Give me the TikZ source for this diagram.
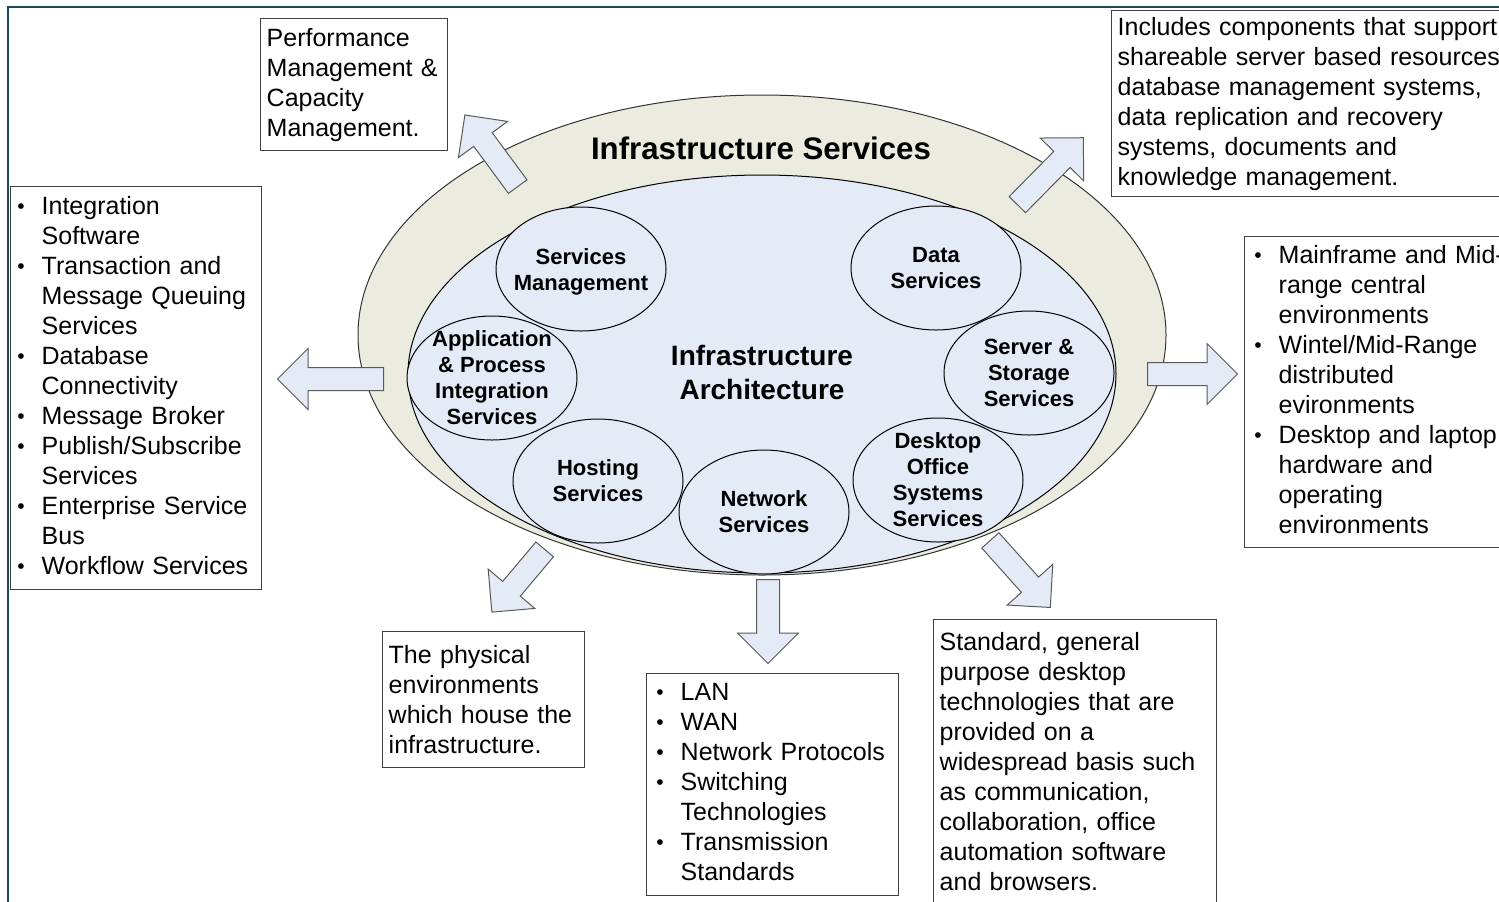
\documentclass[tikz,border=0pt]{standalone}
\usepackage{fontspec}
\setmainfont{Liberation Sans}
\usetikzlibrary{shapes.geometric,shapes.arrows}

\definecolor{framecol}{HTML}{1B4A5C}
\definecolor{outerfill}{HTML}{EBEBE0}
\definecolor{innerfill}{HTML}{E4EBF6}
\definecolor{arrowline}{HTML}{5A5A5A}

\tikzset{
  textbox/.style={draw=black!75, line width=0.7pt, anchor=north west, align=left,
    inner xsep=3pt, inner ysep=0pt, font=\fontsize{12.5}{15}\selectfont},
  svc/.style={ellipse, draw=black, line width=0.5pt, fill=innerfill,
    minimum width=85pt, minimum height=62pt, inner sep=0pt},
  svctext/.style={align=center, font=\fontsize{11}{13}\selectfont\bfseries},
  bigarrow/.style={single arrow, draw=arrowline, line width=0.5pt, fill=innerfill,
    inner sep=5.5pt, single arrow head extend=9.5pt, single arrow tip angle=90,
    anchor=tail},
}

% bullet with an optional shift
\newcommand{\bu}[1][0pt]{\hspace{#1}\makebox[12.5pt][l]{\hspace{0.3pt}\raisebox{0.4pt}{\fontsize{10.5}{10}\selectfont\textbullet}}}

\begin{document}
\begin{tikzpicture}[x=0.5pt,y=-0.5pt]
\useasboundingbox (0,0) rectangle (1499,901);
\clip (0,0) rectangle (1499,901);

% Frame
\draw[framecol, line width=1pt] (8,7) rectangle (1530,930);

% Ellipses
\fill[outerfill] (762,335) ellipse [x radius=202pt, y radius=120pt];
\draw[black!80, line width=0.5pt] (762,335) ellipse [x radius=202pt, y radius=120pt];
\filldraw[fill=innerfill, draw=black, line width=0.5pt] (762,374) ellipse [x radius=177pt, y radius=99.5pt];

\node[font=\fontsize{15.6}{18}\selectfont\bfseries] (title) at (761,148) {Infrastructure Services};
\node[align=center, font=\fontsize{14}{17}\selectfont\bfseries] (arch) at (762,372) {Infrastructure\\Architecture};

% Services
\node[svc] (mgmt) at (581,269) {};
\node[svctext] at ([yshift=-1.5pt]mgmt.center) {Services\\Management};
\node[svc] (data) at (936,268) {};
\node[svctext] at (data) {Data\\Services};
\node[svc] (app) at (492,378) {};
\node[svctext] at (app) {Application\\\& Process\\Integration\\Services};
\node[svc] (server) at (1029,373) {};
\node[svctext] at (server) {Server \&\\Storage\\Services};
\node[svc] (hosting) at (598,481) {};
\node[svctext] at (hosting) {Hosting\\Services};
\node[svc] (network) at (764,512) {};
\node[svctext] at (network) {Network\\Services};
\node[svc] (desktop) at (938,480) {};
\node[svctext] at (desktop) {Desktop\\Office\\Systems\\Services};

% Arrows (placed by their tails)
\node[bigarrow, minimum height=44.5pt, rotate=126.4] (arrUL) at (518,187) {};
\node[bigarrow, minimum height=53pt, rotate=180] (arrL) at (384,379) {};
\node[bigarrow, minimum height=47pt, rotate=45.4] (arrUR) at (1017,205) {};
\node[bigarrow, minimum height=45pt, rotate=0] (arrR) at (1147,374) {};
\node[bigarrow, minimum height=41pt, rotate=229.9] (arrDL) at (545,549) {};
\node[bigarrow, minimum height=42pt, rotate=270] (arrD) at (768,579) {};
\node[bigarrow, minimum height=45pt, rotate=-48.2] (arrDR) at (990,540) {};

% Text boxes
\node[textbox, text width=87.5pt, minimum height=66pt] (perf) at (260,18)
  {Performance\\Management \&\\Capacity\\Management.};
\node[textbox, text width=204pt, minimum height=93pt] (shared) at (1111,10)
  {Includes components that support\\shareable server based resources,\\database management systems,\\data replication and recovery\\systems, documents and\\knowledge management.};
\node[textbox, text width=119.5pt, minimum height=201.5pt] (integ) at (10,186)
  {\begin{tabular}{@{}l@{}l@{}}
  \bu & Integration\\ & Software\\
  \bu & Transaction and\\ & Message Queuing\\ & Services\\
  \bu & Database\\ & Connectivity\\
  \bu & Message Broker\\
  \bu & Publish/Subscribe\\ & Services\\
  \bu & Enterprise Service\\ & Bus\\
  \bu & Workflow Services
  \end{tabular}};
\node[textbox, text width=144pt, minimum height=155.5pt] (central) at (1244,236)
  {\begin{tabular}{@{}l@{}l@{}}
  \bu[1.5pt] & Mainframe and Mid-\\ & range central\\ & environments\\
  \bu[1.5pt] & Wintel/Mid-Range\\ & distributed\\ & evironments\\
  \bu[1.5pt] & Desktop and laptop\\ & hardware and\\ & operating\\ & environments
  \end{tabular}};
\node[textbox, text width=95pt, minimum height=68pt] (phys) at (382,631)
  {The physical\\environments\\which house the\\infrastructure.};
\node[textbox, text width=120pt, minimum height=111pt] (lan) at (646,673)
  {\begin{tabular}{@{}l@{}l@{}}
  \bu[1.5pt] & LAN\\
  \bu[1.5pt] & WAN\\
  \bu[1.5pt] & Network Protocols\\
  \bu[1.5pt] & Switching\\ & Technologies\\
  \bu[1.5pt] & Transmission\\ & Standards
  \end{tabular}};
\node[textbox, text width=135.5pt, minimum height=142pt] (desk) at (933,619)
  {Standard, general\\purpose desktop\\technologies that are\\provided on a\\widespread basis such\\as communication,\\collaboration, office\\automation software\\and browsers.};
\end{tikzpicture}
\end{document}
